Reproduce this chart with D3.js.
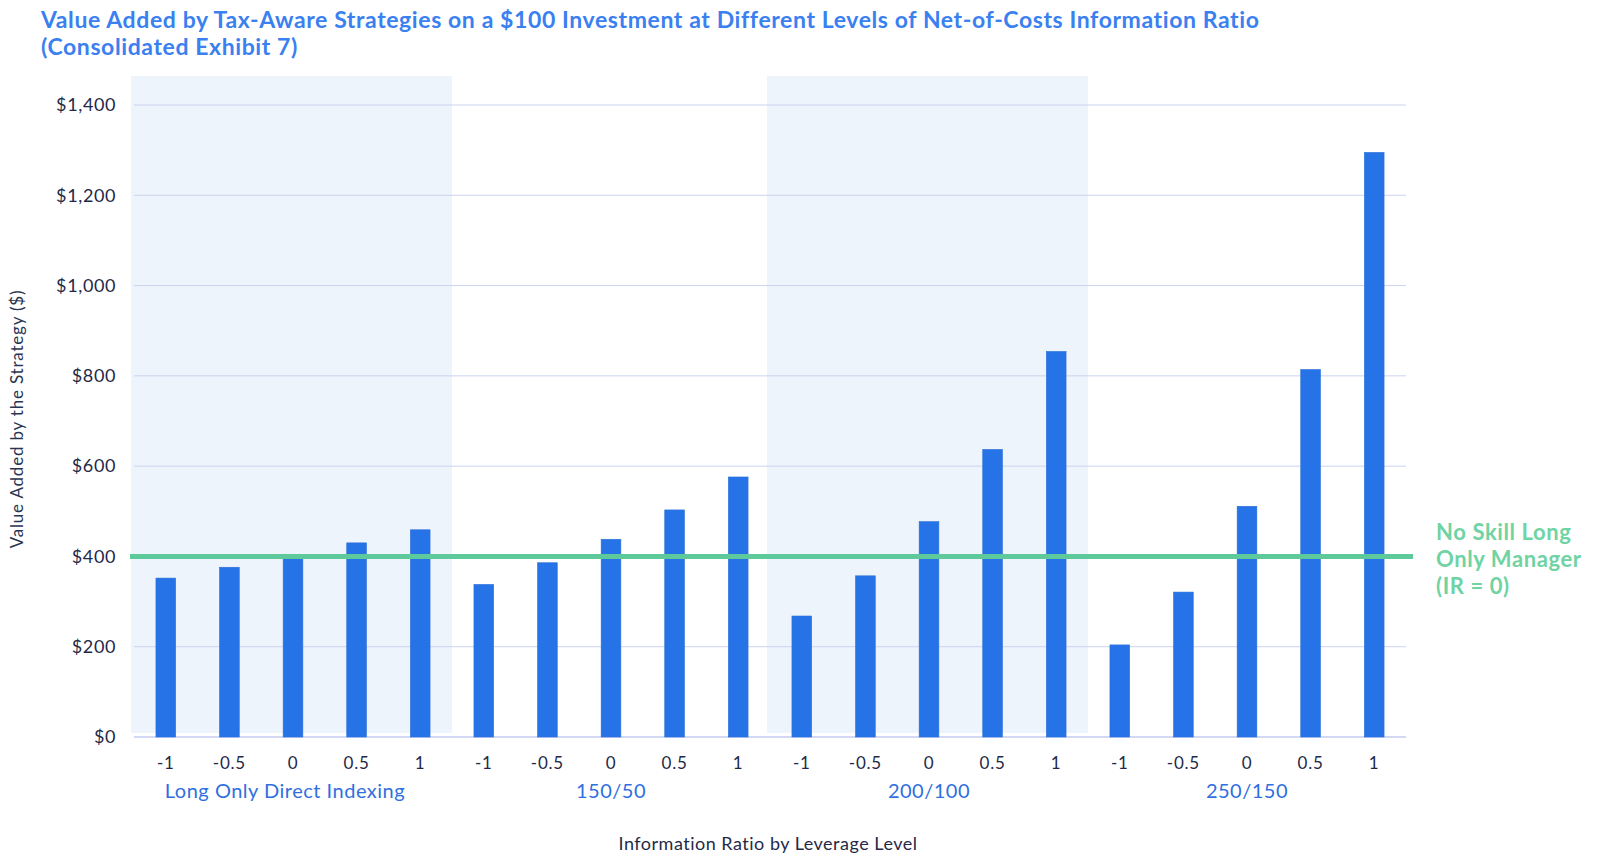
<!DOCTYPE html>
<html>
<head>
<meta charset="utf-8">
<script src="https://cdn.jsdelivr.net/npm/d3@7"></script>
<style>
  body { margin: 0; background: #fff; }
  text { font-family: "Lato", "Open Sans", sans-serif; }
</style>
</head>
<body>
<div id="chart"></div>
<script>
const width = 1600
const height = 865

// data
const groups = ["Long Only Direct Indexing", "150/50", "200/100", "250/150"]
const irLevels = ["-1", "-0.5", "0", "0.5", "1"]
const longOnly = [352, 376, 398, 430, 459]
const lev150 = [338, 386, 438, 503, 576]
const lev200 = [268, 357, 477, 637, 854]
const lev250 = [204, 321, 511, 814, 1295]
const yTicks = [0, 200, 400, 600, 800, 1000, 1200, 1400]
const noSkill = 400
const shadedGroups = ["Long Only Direct Indexing", "200/100"]

const series = [longOnly, lev150, lev200, lev250]
const rows = []
groups.forEach((g, i) => {
    irLevels.forEach((ir, j) => rows.push({ group: g, ir: ir, value: series[i][j] }))
})

const margin = { left: 134, right: 194, top: 105, bottom: 128 }

const svg = d3.select("#chart").append("svg")
    .attr("width", width)
    .attr("height", height)

const x = d3.scaleBand()
    .domain(groups)
    .range([margin.left, width - margin.right])

const xInner = d3.scaleBand()
    .domain(irLevels)
    .range([0, x.bandwidth()])
    .paddingInner(0.69)
    .paddingOuter(0.345)

const y = d3.scaleLinear()
    .domain([0, 1400])
    .range([height - margin.bottom, margin.top])

// shaded group backgrounds
svg.append("g").selectAll("rect")
    .data(shadedGroups)
    .join("rect")
    .attr("x", d => x(d) - 3)
    .attr("y", 76)
    .attr("width", x.bandwidth() + 3)
    .attr("height", y(0) - 4 - 76)
    .attr("fill", "#edf4fb")

// grid
svg.append("g").selectAll("line")
    .data(yTicks)
    .join("line")
    .attr("x1", margin.left)
    .attr("x2", width - margin.right)
    .attr("y1", d => y(d))
    .attr("y2", d => y(d))
    .attr("stroke", d => d === 0 ? "#c5cbf2" : "#ccd3ef")
    .attr("stroke-width", d => d === 0 ? 1.5 : 1)

// y axis labels
const yAxis = svg.append("g")
    .attr("transform", `translate(${margin.left - 15},0)`)
    .call(d3.axisLeft(y).tickValues(yTicks).tickFormat(d3.format("$,")).tickSize(0))
yAxis.select(".domain").remove()
yAxis.selectAll("text")
    .attr("font-size", 18)
    .attr("fill", "#1f2a48")
    .style("letter-spacing", "0.6px")
    .style("font-family", "Lato, sans-serif")

// bars
svg.append("g").selectAll("rect")
    .data(rows)
    .join("rect")
    .attr("x", d => x(d.group) + xInner(d.ir))
    .attr("y", d => y(d.value))
    .attr("width", xInner.bandwidth())
    .attr("height", d => y(0) - y(d.value))
    .attr("fill", "#2673e8")
    .attr("stroke", "#2b6fd6")
    .attr("stroke-width", 0.6)

// no skill reference line
svg.append("line")
    .attr("x1", margin.left - 4)
    .attr("x2", width - margin.right + 7)
    .attr("y1", y(noSkill))
    .attr("y2", y(noSkill))
    .attr("stroke", "#5ec99b")
    .attr("stroke-width", 5)

const refLabel = svg.append("text")
    .attr("x", 1436)
    .attr("y", y(noSkill) - 16)
    .attr("font-size", 22)
    .attr("font-weight", 700)
    .attr("fill", "#6fd3a2")
    .style("letter-spacing", "0.6px")
refLabel.selectAll("tspan")
    .data(["No Skill Long", "Only Manager", "(IR = 0)"])
    .join("tspan")
    .attr("x", 1436)
    .attr("dy", (d, i) => i === 0 ? 0 : 27)
    .text(d => d)

// x tick labels (IR levels)
svg.append("g").selectAll("text")
    .data(rows)
    .join("text")
    .attr("x", d => x(d.group) + xInner(d.ir) + xInner.bandwidth() / 2)
    .attr("y", 769)
    .attr("text-anchor", "middle")
    .attr("font-size", 17)
    .attr("fill", "#1f2a48")
    .style("letter-spacing", "0.8px")
    .text(d => d.ir)

// group labels
svg.append("g").selectAll("text")
    .data(groups)
    .join("text")
    .attr("x", (d, i) => x(d) + x.bandwidth() / 2 - (i === 0 ? 8 : 0))
    .attr("y", 798)
    .attr("text-anchor", "middle")
    .attr("font-size", 20)
    .attr("fill", "#2f6fe0")
    .style("letter-spacing", "0.5px")
    .text(d => d)

// axis titles
svg.append("text")
    .attr("x", (margin.left + width - margin.right) / 2 - 2)
    .attr("y", 850)
    .attr("text-anchor", "middle")
    .attr("font-size", 18)
    .attr("fill", "#1f2a48")
    .style("letter-spacing", "0.5px")
    .text("Information Ratio by Leverage Level")

svg.append("text")
    .attr("transform", `translate(23,${(y(0) + y(1400)) / 2 - 2}) rotate(-90)`)
    .attr("text-anchor", "middle")
    .attr("font-size", 17)
    .attr("fill", "#2a3552")
    .style("letter-spacing", "0.8px")
    .text("Value Added by the Strategy ($)")

// title
const title = svg.append("text")
    .attr("x", 41)
    .attr("y", 28)
    .attr("font-size", 23)
    .attr("font-weight", 700)
    .attr("fill", "#3a80f0")
    .style("letter-spacing", "0.6px")
title.append("tspan")
    .attr("x", 41)
    .text("Value Added by Tax-Aware Strategies on a $100 Investment at Different Levels of Net-of-Costs Information Ratio")
title.append("tspan")
    .attr("x", 41)
    .attr("dy", 27)
    .text("(Consolidated Exhibit 7)")
</script>
</body>
</html>
